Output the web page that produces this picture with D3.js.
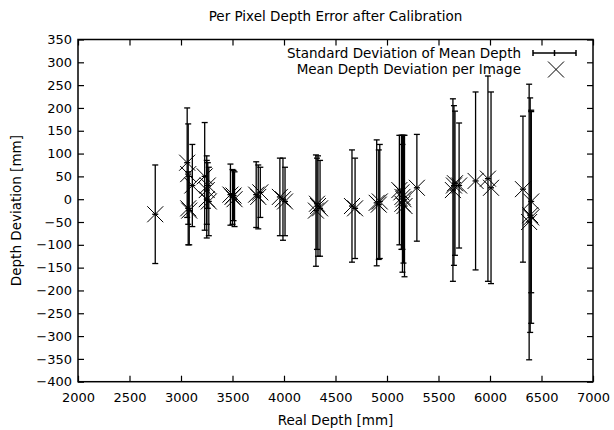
<!DOCTYPE html>
<html>
<head>
<meta charset="utf-8">
<script src="https://cdn.jsdelivr.net/npm/d3@7"></script>
<style>
  body { margin: 0; background: #fff; }
  text { font-family: "DejaVu Sans", sans-serif; fill: #000; }
</style>
</head>
<body>
<div id="chart"></div>
<script>
// one entry per image: real depth, mean deviation, std of deviation (all mm)
const depth = [2750, 3060, 3070, 3070, 3080, 3110, 3230, 3250, 3250, 3270, 3260,
  3480, 3500, 3520, 3510, 3730, 3750, 3770, 3960, 3990, 4010,
  4310, 4330, 4350, 4320, 4660, 4690, 4900, 4930, 4920,
  5120, 5140, 5150, 5160, 5170, 5150, 5290,
  5640, 5650, 5660, 5700, 5860, 5980, 6010,
  6320, 6380, 6390, 6400, 6400];
const meanDev = [-33, 80, 55, -20, -25, 30, 50, 20, 0, -5, 30,
  10, 5, 0, 8, 10, 5, 15, 5, 0, -5,
  -25, -15, -20, -10, -15, -20, -8, -5, -12,
  20, 15, -10, 0, -15, 5, 25,
  20, 30, 35, 30, 40, 45, 25,
  22, -50, -35, -40, -5];
const stdDev = [108, 120, 110, 80, 75, 90, 118, 75, 85, 75, 50,
  67, 60, 60, 55, 72, 70, 55, 85, 90, 75,
  122, 110, 105, 100, 123, 110, 138, 125, 120,
  120, 125, 150, 140, 155, 115, 117,
  200, 175, 158, 137, 195, 225, 210,
  160, 302, 257, 232, 200];

const xTicks = d3.range(2000, 7001, 500);
const yTicks = d3.range(-400, 351, 50);

const width = 614, height = 430;
const x = d3.scaleLinear().domain([2000, 7000]).range([78, 593]);
const y = d3.scaleLinear().domain([-400, 350]).range([381.7, 39.5]);
const plotMid = (x(2000) + x(7000)) / 2;

const data = depth.map((d, i) => ({x: d, m: meanDev[i], s: stdDev[i]}));

const svg = d3.select("#chart").append("svg")
    .attr("width", width)
    .attr("height", height);

// axes with inward ticks, mirrored on top and right
const tickLen = 6;
svg.append("g")
    .attr("transform", `translate(0,${y(-400)})`)
    .call(d3.axisBottom(x).tickValues(xTicks).tickSizeInner(-tickLen).tickSizeOuter(0)
      .tickPadding(11).tickFormat(d3.format("d")))
    .call(g => g.select(".domain").remove())
    .call(g => g.selectAll("text").style("font-size", "13px"));
svg.append("g")
    .attr("transform", `translate(0,${y(350)})`)
    .call(d3.axisTop(x).tickValues(xTicks).tickSizeInner(-tickLen).tickSizeOuter(0).tickFormat(""))
    .call(g => g.select(".domain").remove());
svg.append("g")
    .attr("transform", `translate(${x(2000)},0)`)
    .call(d3.axisLeft(y).tickValues(yTicks).tickSizeInner(-tickLen).tickSizeOuter(0).tickPadding(6))
    .call(g => g.select(".domain").remove())
    .call(g => g.selectAll("text").style("font-size", "13px"));
svg.append("g")
    .attr("transform", `translate(${x(7000)},0)`)
    .call(d3.axisRight(y).tickValues(yTicks).tickSizeInner(-tickLen).tickSizeOuter(0).tickFormat(""))
    .call(g => g.select(".domain").remove());
svg.selectAll(".tick line").attr("stroke", "#000").attr("stroke-width", 1.2);

// error bars
const capW = 3;
const bars = svg.append("g").attr("stroke", "#000").attr("stroke-width", 1.3)
  .selectAll("g").data(data).join("g");
bars.append("line")
    .attr("x1", d => x(d.x)).attr("x2", d => x(d.x))
    .attr("y1", d => y(d.m + d.s)).attr("y2", d => y(d.m - d.s));
bars.append("line")
    .attr("x1", d => x(d.x) - capW).attr("x2", d => x(d.x) + capW)
    .attr("y1", d => y(d.m + d.s)).attr("y2", d => y(d.m + d.s));
bars.append("line")
    .attr("x1", d => x(d.x) - capW).attr("x2", d => x(d.x) + capW)
    .attr("y1", d => y(d.m - d.s)).attr("y2", d => y(d.m - d.s));
bars.append("line")
    .attr("x1", d => x(d.x) - capW).attr("x2", d => x(d.x) + capW)
    .attr("y1", d => y(d.m)).attr("y2", d => y(d.m));

// cross markers
const cs = 8;
const crossPath = (cx, cy) => `M${cx - cs},${cy - cs}L${cx + cs},${cy + cs}M${cx - cs},${cy + cs}L${cx + cs},${cy - cs}`;
svg.append("g")
  .selectAll("path").data(data).join("path")
    .attr("d", d => crossPath(x(d.x), y(d.m)))
    .attr("fill", "none")
    .attr("stroke", "#000")
    .attr("stroke-width", 1);

// frame
svg.append("rect")
    .attr("x", x(2000)).attr("y", y(350))
    .attr("width", x(7000) - x(2000)).attr("height", y(-400) - y(350))
    .attr("fill", "none").attr("stroke", "#000").attr("stroke-width", 1.5);

// legend
const leg = svg.append("g");
leg.append("text").attr("x", 521).attr("y", 57.5).attr("text-anchor", "end")
    .style("font-size", "13.5px").text("Standard Deviation of Mean Depth");
leg.append("text").attr("x", 521).attr("y", 74).attr("text-anchor", "end")
    .style("font-size", "13.5px").text("Mean Depth Deviation per Image");
const ly = 53;
leg.append("path")
    .attr("d", `M533,${ly}H576M533,${ly - 3}V${ly + 3}M576,${ly - 3}V${ly + 3}M554.5,${ly - 3}V${ly + 3}`)
    .attr("stroke", "#000").attr("stroke-width", 1.5).attr("fill", "none");
leg.append("path")
    .attr("d", crossPath(556, 69.5))
    .attr("stroke", "#000").attr("stroke-width", 1).attr("fill", "none");

// titles
svg.append("text").attr("x", plotMid).attr("y", 21).attr("text-anchor", "middle")
    .style("font-size", "13.5px").text("Per Pixel Depth Error after Calibration");
svg.append("text").attr("x", plotMid).attr("y", 425).attr("text-anchor", "middle")
    .style("font-size", "13.5px").text("Real Depth [mm]");
svg.append("text")
    .attr("transform", `translate(21,${(y(350) + y(-400)) / 2}) rotate(-90)`)
    .attr("text-anchor", "middle")
    .style("font-size", "13.5px").text("Depth Deviation [mm]");
</script>
</body>
</html>
